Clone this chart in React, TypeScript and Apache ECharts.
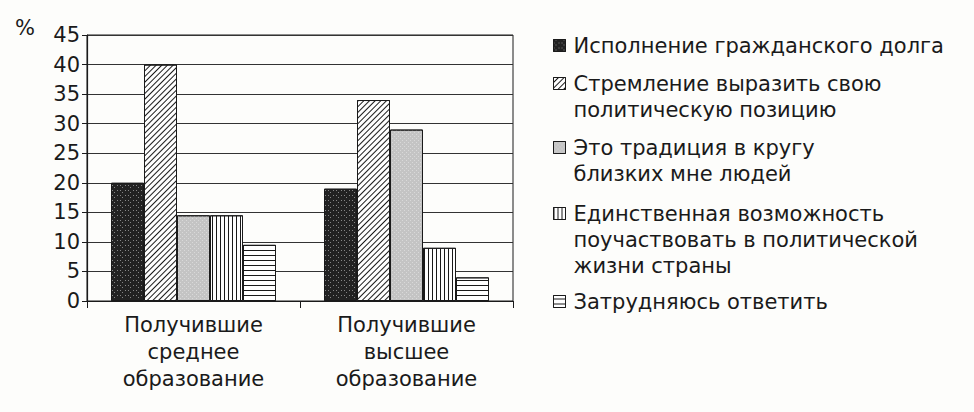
import { useEffect, useRef } from 'react';
import * as echarts from 'echarts';

const categories = ['Получившие\nсреднее\nобразование', 'Получившие\nвысшее\nобразование'];

const seriesNames = [
  'Исполнение гражданского долга',
  'Стремление выразить свою\nполитическую позицию',
  'Это традиция в кругу\nблизких мне людей',
  'Единственная возможность\nпоучаствовать в политической\nжизни страны',
  'Затрудняюсь ответить',
];

const civicDuty = [20, 19];
const politicalPosition = [40, 34];
const tradition = [14.5, 29];
const onlyChance = [14.5, 9];
const hardToSay = [9.5, 4];

const yTicks = { min: 0, max: 45, interval: 5 };

// no serif face in the sandbox; DejaVu Sans matches the widths best
const FONT = 'DejaVu Sans';
const INK = '#1a1a1a';

// fill + decal per series, in series order
const fills: Array<{ color: string; decal?: any }> = [
  {
    color: '#222222',
    decal: {
      symbol: 'rect',
      symbolSize: 1,
      color: 'rgba(255,255,255,0.45)',
      dashArrayX: [[1, 4, 1, 2], [0, 2, 1, 5]],
      dashArrayY: [1, 1, 1, 2],
      rotation: 0,
    },
  },
  {
    color: '#ffffff',
    decal: {
      symbol: 'rect',
      symbolSize: 1,
      color: INK,
      dashArrayX: [1, 0],
      dashArrayY: [1, 3],
      rotation: -Math.PI / 4,
    },
  },
  {
    color: '#c4c4c4',
    decal: {
      symbol: 'rect',
      symbolSize: 1,
      color: 'rgba(255,255,255,0.35)',
      dashArrayX: [[1, 3], [0, 2, 1, 1]],
      dashArrayY: [1, 1],
      rotation: 0,
    },
  },
  {
    color: '#ffffff',
    decal: {
      symbol: 'rect',
      symbolSize: 1,
      color: INK,
      dashArrayX: [1, 3],
      dashArrayY: [1, 0],
      rotation: 0,
    },
  },
  {
    color: '#ffffff',
    decal: {
      symbol: 'rect',
      symbolSize: 1,
      color: INK,
      dashArrayX: [1, 0],
      dashArrayY: [1, 4],
      rotation: 0,
    },
  },
];

// first-line centre of each legend entry
const legendLineY = [45, 83, 147, 213, 301];
const LH = 26;

export default function App() {
  const chartRef = useRef<HTMLDivElement>(null);

  useEffect(() => {
    if (!chartRef.current) return;
    const chart = echarts.init(chartRef.current, null, { renderer: 'svg' });

    const values = [civicDuty, politicalPosition, tradition, onlyChance, hardToSay];

    // icon box as tall as the text block, square drawn next to the first line
    const legends = seriesNames.map((name, i) => {
      const lines = name.split('\n').length;
      const h = lines * LH;
      const c = LH / 2;
      return {
        left: 553,
        top: legendLineY[i] - c,
        orient: 'vertical',
        padding: 0,
        itemWidth: 15,
        itemHeight: h,
        selectedMode: false,
        data: [
          {
            name,
            icon: `path://M0 0M15 ${h}M0 ${c - 6}h12v12h-12z`,
          },
        ],
        itemStyle: { borderColor: INK, borderWidth: 1 },
        textStyle: {
          fontFamily: FONT,
          fontSize: 21,
          lineHeight: LH,
          color: INK,
        },
      };
    });

    const option: any = {
      animation: false,
      backgroundColor: '#fdfdfb',
      textStyle: { fontFamily: FONT },
      grid: {
        left: 87,
        right: 461,
        top: 35,
        bottom: 111,
        show: true,
        borderColor: INK,
        borderWidth: 1,
      },
      legend: legends,
      xAxis: {
        type: 'category',
        data: categories,
        axisLine: { lineStyle: { color: INK, width: 1.2 } },
        axisTick: { show: true, length: 7, lineStyle: { color: INK } },
        axisLabel: {
          fontFamily: FONT,
          fontSize: 21,
          lineHeight: 27,
          color: INK,
          margin: 10,
        },
      },
      yAxis: {
        type: 'value',
        min: yTicks.min,
        max: yTicks.max,
        interval: yTicks.interval,
        name: '%',
        nameLocation: 'end',
        nameGap: 7,
        nameTextStyle: {
          fontFamily: FONT,
          fontSize: 21,
          color: INK,
          align: 'right',
          verticalAlign: 'middle',
          padding: [0, 52, 0, 0],
        },
        axisLine: { show: true, lineStyle: { color: INK, width: 1.2 } },
        axisTick: { show: true, length: 5, lineStyle: { color: INK } },
        axisLabel: { fontFamily: FONT, fontSize: 21, color: INK, margin: 7 },
        splitLine: { show: true, lineStyle: { color: '#333', width: 1.2 } },
      },
      series: seriesNames.map((name, i) => ({
        name,
        type: 'bar',
        barWidth: 33,
        barGap: '0%',
        data: values[i],
        itemStyle: {
          color: fills[i].color,
          decal: fills[i].decal,
          borderColor: INK,
          borderWidth: 1,
        },
      })),
    };

    chart.setOption(option);
    return () => chart.dispose();
  }, []);

  return (
    <div
      ref={chartRef}
      style={{ position: 'absolute', left: 0, top: 0, width: 974, height: 412 }}
    />
  );
}
